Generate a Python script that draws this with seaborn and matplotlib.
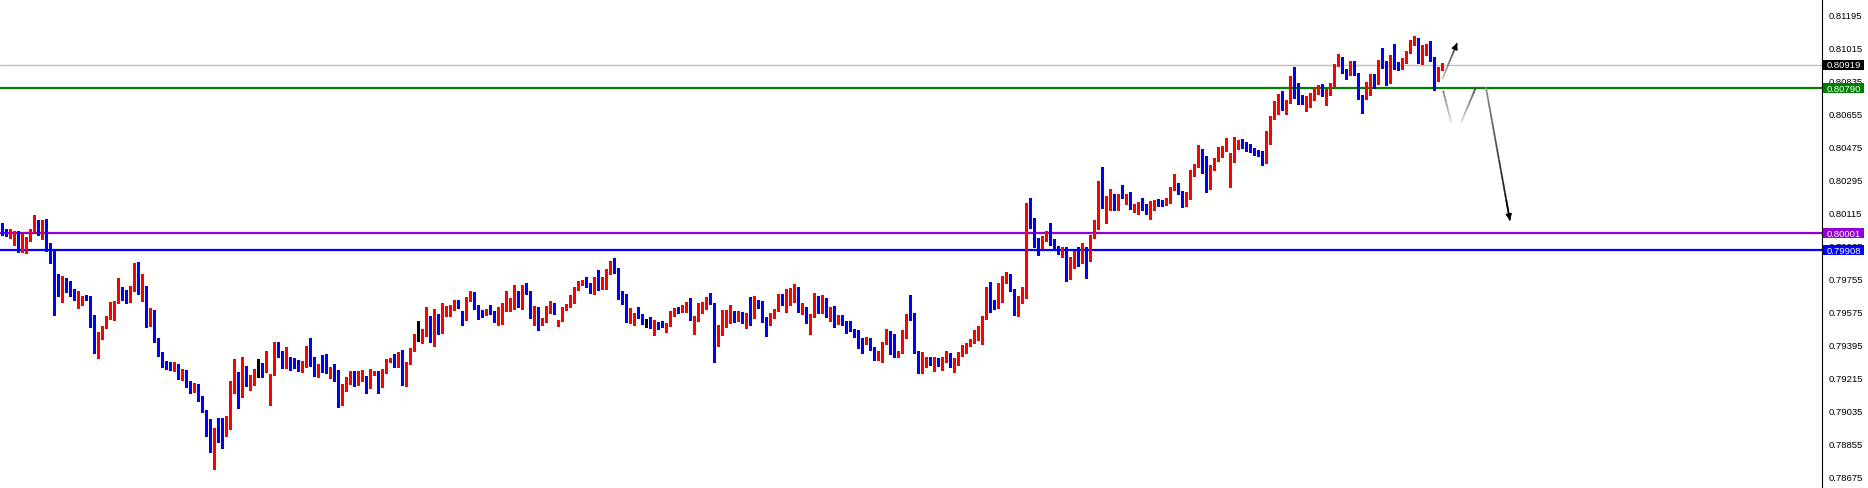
import numpy as np
import pandas as pd
import matplotlib
matplotlib.use("Agg")
import matplotlib.pyplot as plt
import matplotlib.transforms as mtransforms
from matplotlib.collections import LineCollection
from matplotlib.patches import Rectangle
import seaborn as sns

# candle prices in points (1 point = 0.00001), one entry per bar
opens = [
    80043, 80006, 79992, 80001, 80006, 79943, 79950, 79970, 80006, 80057,
    80030, 80063, 79912, 79856, 79709, 79662, 79747, 79741, 79676, 79602,
    79629, 79654, 79654, 79535, 79377, 79447, 79486, 79540, 79569, 79620,
    79692, 79654, 79632, 79694, 79823, 79671, 79682, 79502, 79567, 79426,
    79344, 79295, 79279, 79262, 79280, 79225, 79245, 79180, 79148, 79170,
    79105, 79033, 78924, 78861, 78935, 78930, 78904, 78991, 79135, 79213,
    79126, 79251, 79186, 79209, 79249, 79251, 79246, 79066, 79229, 79394,
    79360, 79273, 79322, 79316, 79295, 79266, 79273, 79382, 79311, 79240,
    79273, 79273, 79244, 79246, 79246, 79066, 79173, 79197, 79233, 79180,
    79213, 79224, 79158, 79235, 79246, 79169, 79240, 79302, 79316, 79295,
    79349, 79186, 79291, 79360, 79445, 79444, 79454, 79551, 79422, 79562,
    79491, 79572, 79583, 79600, 79616, 79578, 79538, 79649, 79676, 79594,
    79583, 79562, 79583, 79572, 79529, 79534, 79594, 79605, 79611, 79687,
    79616, 79692, 79687, 79556, 79572, 79507, 79523, 79589, 79616, 79496,
    79523, 79583, 79605, 79627, 79692, 79725, 79741, 79719, 79703, 79747,
    79709, 79741, 79790, 79839, 79812, 79689, 79673, 79524, 79551, 79567,
    79546, 79518, 79518, 79448, 79513, 79508, 79502, 79502, 79557, 79595,
    79573, 79595, 79606, 79529, 79535, 79573, 79589, 79644, 79622, 79448,
    79497, 79518, 79573, 79578, 79546, 79567, 79524, 79633, 79540, 79633,
    79606, 79535, 79508, 79562, 79578, 79638, 79633, 79644, 79687, 79709,
    79589, 79600, 79518, 79557, 79638, 79595, 79643, 79551, 79572, 79512,
    79534, 79507, 79502, 79480, 79458, 79420, 79404, 79431, 79376, 79316,
    79333, 79404, 79442, 79393, 79333, 79349, 79442, 79562, 79540, 79355,
    79262, 79278, 79316, 79289, 79322, 79289, 79300, 79338, 79278, 79289,
    79344, 79355, 79398, 79409, 79420, 79453, 79540, 79670, 79616, 79594,
    79709, 79736, 79747, 79698, 79572, 79638, 79681, 80074, 80052, 79954,
    79921, 79970, 79998, 79970, 79921, 79894, 79911, 79769, 79862, 79872,
    79851, 79878, 79867, 79987, 80063, 80286, 80139, 80172, 80194, 80134,
    80216, 80199, 80210, 80139, 80145, 80156, 80156, 80107, 80161, 80177,
    80177, 80156, 80167, 80243, 80270, 80232, 80150, 80216, 80314, 80368,
    80417, 80363, 80259, 80352, 80401, 80444, 80450, 80261, 80390, 80486,
    80488, 80488, 80482, 80455, 80444, 80444, 80390, 80499, 80629, 80711,
    80755, 80700, 80716, 80825, 80776, 80744, 80716, 80733, 80749, 80766,
    80793, 80716, 80755, 80804, 80918, 80934, 80885, 80869, 80934, 80869,
    80749, 80733, 80787, 80864, 80820, 80945, 80913, 80836, 80967, 80913,
    80902, 80940, 80983, 81032, 81065, 80929, 80972, 81027, 80956, 80858,
    80902,
]
highs = [
    80057, 80025, 80025, 80016, 80012, 79997, 79983, 80025, 80101, 80075,
    80074, 80079, 79948, 79907, 79780, 79770, 79758, 79741, 79698, 79687,
    79662, 79665, 79662, 79556, 79466, 79496, 79553, 79629, 79631, 79758,
    79707, 79692, 79712, 79838, 79847, 79780, 79712, 79594, 79584, 79431,
    79357, 79308, 79302, 79300, 79290, 79260, 79255, 79195, 79185, 79180,
    79115, 79039, 78990, 78939, 78993, 78993, 79008, 79197, 79316, 79244,
    79327, 79278, 79231, 79264, 79316, 79295, 79360, 79233, 79411, 79411,
    79360, 79382, 79327, 79322, 79311, 79305, 79387, 79431, 79327, 79289,
    79338, 79344, 79273, 79289, 79256, 79180, 79218, 79251, 79253, 79251,
    79256, 79224, 79262, 79251, 79251, 79262, 79316, 79322, 79342, 79354,
    79365, 79300, 79376, 79452, 79523, 79480, 79600, 79551, 79589, 79562,
    79621, 79605, 79612, 79638, 79638, 79578, 79654, 79687, 79681, 79611,
    79583, 79589, 79611, 79578, 79600, 79621, 79687, 79649, 79719, 79687,
    79719, 79730, 79687, 79605, 79600, 79540, 79605, 79632, 79621, 79529,
    79600, 79616, 79665, 79709, 79741, 79747, 79763, 79730, 79763, 79801,
    79763, 79807, 79850, 79866, 79812, 79689, 79673, 79595, 79567, 79600,
    79562, 79535, 79546, 79529, 79518, 79524, 79513, 79578, 79595, 79600,
    79611, 79627, 79649, 79551, 79622, 79627, 79655, 79676, 79622, 79502,
    79584, 79584, 79611, 79578, 79578, 79573, 79567, 79655, 79660, 79638,
    79633, 79546, 79567, 79589, 79671, 79671, 79698, 79704, 79725, 79709,
    79622, 79600, 79562, 79676, 79660, 79665, 79649, 79600, 79605, 79556,
    79556, 79523, 79523, 79480, 79474, 79431, 79436, 79431, 79382, 79360,
    79409, 79480, 79469, 79453, 79360, 79474, 79562, 79665, 79567, 79360,
    79355, 79327, 79327, 79327, 79322, 79327, 79360, 79349, 79322, 79355,
    79393, 79404, 79425, 79474, 79496, 79551, 79709, 79736, 79638, 79730,
    79768, 79790, 79779, 79698, 79660, 79709, 80166, 80194, 80085, 79976,
    79987, 80014, 80058, 79970, 79932, 79927, 79927, 79872, 79905, 79927,
    79949, 79927, 79992, 80074, 80286, 80363, 80205, 80243, 80216, 80216,
    80265, 80216, 80226, 80161, 80172, 80194, 80161, 80177, 80183, 80188,
    80183, 80194, 80254, 80324, 80275, 80232, 80226, 80346, 80379, 80482,
    80461, 80422, 80373, 80412, 80471, 80477, 80520, 80440, 80526, 80510,
    80515, 80499, 80488, 80466, 80455, 80450, 80559, 80640, 80722, 80760,
    80776, 80727, 80858, 80907, 80820, 80755, 80749, 80766, 80793, 80809,
    80815, 80787, 80820, 80923, 80978, 80962, 80896, 80940, 80940, 80874,
    80755, 80825, 80869, 80869, 80945, 81011, 80940, 80972, 81032, 80934,
    80956, 80994, 81054, 81076, 81065, 81027, 81032, 81049, 80962, 80907,
    80929,
]
lows = [
    79994, 79988, 79976, 79939, 79901, 79901, 79894, 79961, 80006, 79994,
    79970, 79907, 79839, 79556, 79662, 79629, 79680, 79658, 79638, 79594,
    79611, 79640, 79493, 79349, 79322, 79426, 79486, 79535, 79531, 79620,
    79638, 79620, 79625, 79689, 79671, 79634, 79489, 79495, 79411, 79335,
    79271, 79262, 79259, 79250, 79210, 79200, 79165, 79130, 79135, 79090,
    79030, 78895, 78812, 78717, 78863, 78834, 78895, 78937, 79131, 79051,
    79109, 79171, 79149, 79175, 79220, 79220, 79246, 79066, 79229, 79327,
    79266, 79266, 79258, 79266, 79253, 79247, 79273, 79280, 79224, 79220,
    79247, 79240, 79211, 79197, 79053, 79066, 79144, 79180, 79167, 79175,
    79197, 79131, 79158, 79229, 79131, 79164, 79240, 79302, 79273, 79273,
    79175, 79169, 79289, 79360, 79416, 79404, 79444, 79411, 79389, 79454,
    79458, 79551, 79551, 79583, 79594, 79502, 79529, 79632, 79589, 79534,
    79545, 79556, 79562, 79518, 79502, 79507, 79578, 79578, 79589, 79600,
    79589, 79670, 79540, 79502, 79474, 79502, 79518, 79567, 79562, 79496,
    79523, 79583, 79600, 79621, 79692, 79719, 79709, 79676, 79670, 79692,
    79698, 79698, 79779, 79785, 79643, 79616, 79518, 79513, 79502, 79540,
    79508, 79491, 79486, 79448, 79480, 79491, 79464, 79497, 79551, 79567,
    79573, 79573, 79529, 79453, 79524, 79567, 79589, 79616, 79301, 79388,
    79448, 79491, 79513, 79518, 79524, 79513, 79486, 79502, 79540, 79595,
    79518, 79442, 79502, 79540, 79578, 79611, 79573, 79611, 79627, 79573,
    79562, 79513, 79453, 79546, 79567, 79567, 79545, 79523, 79491, 79507,
    79502, 79458, 79469, 79436, 79376, 79349, 79398, 79365, 79311, 79311,
    79300, 79398, 79344, 79327, 79327, 79349, 79431, 79529, 79349, 79240,
    79240, 79273, 79284, 79251, 79278, 79257, 79300, 79273, 79246, 79284,
    79333, 79349, 79387, 79404, 79420, 79398, 79534, 79572, 79589, 79594,
    79627, 79730, 79687, 79556, 79551, 79621, 79649, 80030, 79927, 79883,
    79921, 79960, 79938, 79911, 79889, 79872, 79742, 79753, 79813, 79823,
    79840, 79758, 79851, 79976, 80025, 80139, 80058, 80128, 80128, 80128,
    80194, 80161, 80134, 80117, 80107, 80128, 80107, 80079, 80128, 80150,
    80150, 80156, 80167, 80237, 80216, 80145, 80150, 80188, 80314, 80363,
    80330, 80226, 80243, 80346, 80395, 80417, 80450, 80255, 80390, 80461,
    80466, 80450, 80444, 80428, 80422, 80373, 80384, 80488, 80624, 80651,
    80673, 80651, 80711, 80738, 80706, 80706, 80667, 80689, 80727, 80760,
    80749, 80700, 80755, 80804, 80913, 80874, 80842, 80864, 80864, 80733,
    80657, 80733, 80755, 80793, 80815, 80902, 80809, 80820, 80896, 80891,
    80896, 80929, 80983, 81027, 80929, 80923, 80972, 80940, 80782, 80831,
    80891,
]
closes = [
    80006, 79988, 80001, 80006, 79943, 79956, 79977, 79999, 80057, 80030,
    80065, 79912, 79850, 79705, 79662, 79747, 79730, 79671, 79638, 79632,
    79654, 79649, 79531, 79380, 79453, 79491, 79549, 79571, 79622, 79692,
    79642, 79629, 79698, 79823, 79671, 79680, 79498, 79571, 79420, 79338,
    79286, 79275, 79262, 79280, 79225, 79245, 79180, 79148, 79170, 79105,
    79050, 78926, 78861, 78935, 78926, 78904, 78995, 79142, 79213, 79126,
    79251, 79186, 79213, 79253, 79249, 79247, 79344, 79233, 79394, 79356,
    79273, 79322, 79313, 79284, 79273, 79276, 79382, 79307, 79240, 79278,
    79271, 79240, 79246, 79244, 79066, 79178, 79200, 79229, 79180, 79218,
    79229, 79153, 79240, 79246, 79175, 79251, 79305, 79316, 79295, 79344,
    79186, 79295, 79360, 79447, 79445, 79458, 79551, 79422, 79562, 79491,
    79583, 79591, 79605, 79616, 79605, 79529, 79649, 79676, 79589, 79578,
    79562, 79583, 79567, 79529, 79534, 79600, 79611, 79621, 79687, 79611,
    79692, 79681, 79556, 79572, 79507, 79534, 79594, 79616, 79562, 79529,
    79589, 79611, 79632, 79698, 79730, 79741, 79714, 79703, 79747, 79709,
    79747, 79796, 79839, 79807, 79681, 79667, 79524, 79562, 79562, 79540,
    79513, 79518, 79486, 79513, 79508, 79502, 79513, 79573, 79595, 79573,
    79600, 79606, 79529, 79540, 79578, 79600, 79644, 79616, 79448, 79502,
    79524, 79573, 79578, 79546, 79567, 79524, 79551, 79540, 79633, 79600,
    79529, 79502, 79567, 79584, 79622, 79616, 79649, 79693, 79709, 79589,
    79606, 79518, 79562, 79638, 79595, 79644, 79551, 79578, 79512, 79534,
    79502, 79496, 79474, 79453, 79409, 79404, 79425, 79371, 79316, 79338,
    79409, 79442, 79393, 79333, 79355, 79447, 79562, 79534, 79349, 79262,
    79278, 79316, 79289, 79322, 79289, 79306, 79338, 79278, 79295, 79344,
    79365, 79398, 79415, 79425, 79453, 79545, 79670, 79610, 79600, 79714,
    79741, 79747, 79692, 79572, 79638, 79681, 80073, 80047, 79927, 79921,
    79976, 79998, 79960, 79911, 79894, 79911, 79769, 79872, 79872, 79851,
    79878, 79867, 79992, 80063, 80286, 80145, 80183, 80194, 80134, 80216,
    80199, 80210, 80134, 80150, 80156, 80150, 80107, 80172, 80177, 80172,
    80161, 80172, 80248, 80265, 80226, 80150, 80221, 80319, 80373, 80417,
    80357, 80259, 80357, 80406, 80450, 80461, 80471, 80395, 80488, 80493,
    80482, 80482, 80450, 80444, 80439, 80390, 80504, 80635, 80716, 80755,
    80700, 80722, 80825, 80776, 80738, 80716, 80738, 80755, 80771, 80793,
    80749, 80760, 80815, 80923, 80934, 80880, 80882, 80934, 80864, 80738,
    80738, 80787, 80858, 80820, 80945, 80902, 80836, 80962, 80902, 80902,
    80945, 80989, 81038, 81060, 80934, 80978, 81027, 80945, 80853, 80902,
    80918,
]

# price scale on the right
tick_prices = [0.81195, 0.81015, 0.80835, 0.80655, 0.80475, 0.80295, 0.80115,
               0.79935, 0.79755, 0.79575, 0.79395, 0.79215, 0.79035, 0.78855, 0.78675]

# horizontal levels: current price, resistance / support lines
level_prices = [0.80919, 0.80790, 0.80001, 0.79908]
level_line_colors = ["#c0c0c0", "#008000", "#9400d3", "#0000ff"]
level_box_colors = ["#000000", "#008000", "#9400d3", "#0000ff"]
level_widths = [1.0, 1.6, 1.6, 1.6]

# hand drawn projection: (bar0, price0, bar1, price1, grey at start, grey at end, arrow head)
projection = [
    (360.0, 0.80841, 363.7, 0.81037, 0.75, 0.15, True),
    (360.2, 0.80778, 362.2, 0.80606, 0.45, 0.85, False),
    (364.7, 0.80606, 368.4, 0.80796, 0.85, 0.25, False),
    (370.9, 0.80796, 376.9, 0.80071, 0.55, 0.0, True),
]

sns.set_style("white")
plt.rcParams["font.family"] = ["Liberation Sans", "DejaVu Sans"]

df = pd.DataFrame({
    "open": np.array(opens) / 1e5,
    "high": np.array(highs) / 1e5,
    "low": np.array(lows) / 1e5,
    "close": np.array(closes) / 1e5,
})
df["bar"] = np.arange(len(df))
colors = np.where(df["close"] > df["open"], "#ff0000",
                  np.where(df["close"] < df["open"], "#0000ff", "#000000"))

W, H = 1868, 489
plot_w = 1821.5
fig = plt.figure(figsize=(W / 100, H / 100), dpi=100)
fig.patch.set_facecolor("white")
ax = fig.add_axes([0, 0, plot_w / W, 1])

# levels
for p, c, lw in zip(level_prices, level_line_colors, level_widths):
    ax.axhline(p, color=c, lw=lw, zorder=1)

# wicks + bodies
ax.vlines(df["bar"], df["low"], df["high"], colors=colors, lw=1, antialiased=False, zorder=2)
body = np.maximum((df["close"] - df["open"]).abs(), 0.00004)
ax.bar(df["bar"], body, bottom=np.minimum(df["open"], df["close"]), width=0.75,
       color=colors, linewidth=0, antialiased=False, zorder=3)


def fade_line(ax, x0, y0, x1, y1, g0, g1, n=24):
    xs = np.linspace(x0, x1, n + 1)
    ys = np.linspace(y0, y1, n + 1)
    segs = [[(xs[i], ys[i]), (xs[i + 1], ys[i + 1])] for i in range(n)]
    greys = np.linspace(g0, g1, n)
    lc = LineCollection(segs, colors=[(g, g, g) for g in greys], linewidths=1.3, zorder=4)
    ax.add_collection(lc)


for x0, y0, x1, y1, g0, g1, head in projection:
    fade_line(ax, x0, y0, x1, y1, g0, g1)
    if head:
        ax.annotate("", xy=(x1, y1), xytext=(x1 - (x1 - x0) * 0.15, y1 - (y1 - y0) * 0.15),
                    arrowprops=dict(arrowstyle="-|>", color="black", lw=1,
                                    mutation_scale=9, shrinkA=0, shrinkB=0), zorder=4)

ax.set_xlim(-0.58, (plot_w - 2.33) / 4)
ax.set_ylim(0.81277 - H * 5.446e-5, 0.81277)

ax.yaxis.tick_right()
ax.set_yticks(tick_prices)
ax.set_yticklabels([f"{p:.5f}" for p in tick_prices])
ax.tick_params(axis="y", length=2.5, width=0.8, pad=2.5, labelsize=6.8, colors="black")
ax.set_xticks([])
sns.despine(ax=ax, left=True, top=True, bottom=True, right=False)
ax.spines["right"].set_color("black")
ax.spines["right"].set_linewidth(0.8)

# price labels for the levels on the scale
trans = mtransforms.blended_transform_factory(ax.transAxes, ax.transData)
box_h = 10 * 5.446e-5
for p, c in zip(level_prices, level_box_colors):
    ax.add_patch(Rectangle((1 + 1.2 / plot_w, p - box_h / 2), 41.5 / plot_w, box_h,
                           transform=trans, facecolor=c, edgecolor="none",
                           clip_on=False, zorder=6))
    ax.text(1 + 5.5 / plot_w, p, f"{p:.5f}", transform=trans, ha="left", va="center",
            color="white", fontsize=6.8, clip_on=False, zorder=7)

fig.savefig("out.png", dpi=100, facecolor="white")
